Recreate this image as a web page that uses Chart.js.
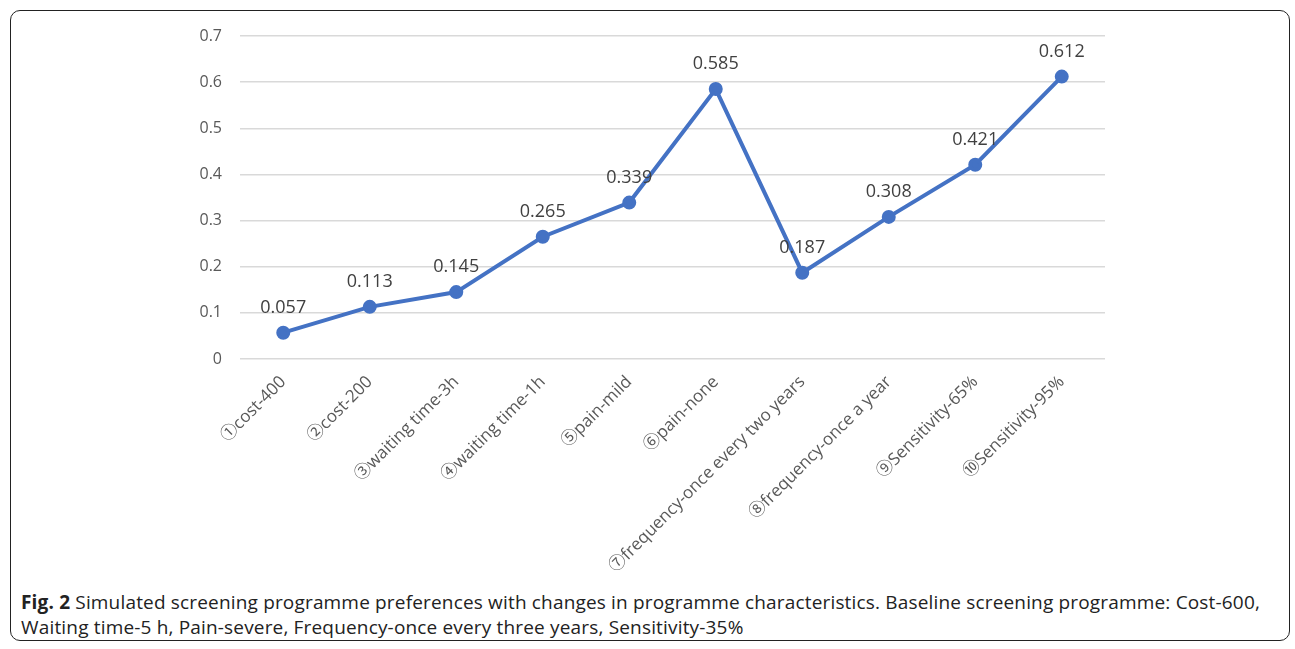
<!DOCTYPE html>
<html>
<head>
<meta charset="utf-8">
<script src="https://cdn.jsdelivr.net/npm/chart.js@4"></script>
<style>
  html, body { margin:0; padding:0; background:#fff; }
  body { width:1295px; height:649px; position:relative; overflow:hidden; font-family:"Open Sans", sans-serif; }
  .frame { position:absolute; left:10px; top:10px; width:1278px; height:629px; border:1.5px solid #222; border-radius:10px; }
  .chartbox { position:absolute; left:0; top:0; width:1295px; height:570px; }
  .caption { position:absolute; left:21px; top:590px; font-size:19px; line-height:25px; color:#222; white-space:nowrap; letter-spacing:0.17px; }
  .caption b { font-weight:700; }
</style>
</head>
<body>
<div class="frame"></div>
<div class="chartbox"><canvas id="c"></canvas></div>
<div class="caption"><b>Fig. 2</b> Simulated screening programme preferences with changes in programme characteristics. Baseline screening programme: Cost-600,<br>Waiting time-5 h, Pain-severe, Frequency-once every three years, Sensitivity-35%</div>
<script>
// ==== DATA ====
const categories = [
  "①cost-400", "②cost-200", "③waiting time-3h", "④waiting time-1h", "⑤pain-mild",
  "⑥pain-none", "⑦frequency-once every two years", "⑧frequency-once a year",
  "⑨Sensitivity-65%", "⑩Sensitivity-95%"
];
const values = [0.057, 0.113, 0.145, 0.265, 0.339, 0.585, 0.187, 0.308, 0.421, 0.612];
const yTicks = [0, 0.1, 0.2, 0.3, 0.4, 0.5, 0.6, 0.7];

const FONT = "'Open Sans', 'Noto Sans CJK JP', sans-serif";

// value labels above points
const valueLabels = {
  id: "valueLabels",
  afterDatasetsDraw(chart){
    const ctx = chart.ctx;
    const meta = chart.getDatasetMeta(0);
    ctx.save();
    ctx.font = "18px " + FONT;
    ctx.fillStyle = "#404040";
    ctx.textAlign = "center";
    ctx.textBaseline = "alphabetic";
    meta.data.forEach((pt, i) => {
      ctx.fillText(values[i].toFixed(3), pt.x, pt.y - 20);
    });
    ctx.restore();
  }
};

new Chart(document.getElementById("c"), {
  type: "line",
  data: {
    labels: categories,
    datasets: [{
      data: values,
      borderColor: "#4472C4",
      backgroundColor: "#4472C4",
      borderWidth: 4,
      pointRadius: 5,
      pointHoverRadius: 5,
      tension: 0,
      fill: false
    }]
  },
  options: {
    responsive: true,
    maintainAspectRatio: false,
    animation: false,
    layout: { padding: { left: 0, right: 190, top: 36, bottom: 0 } },
    plugins: { legend: { display: false }, tooltip: { enabled: false } },
    scales: {
      x: {
        offset: true,
        grid: { display: false, drawTicks: false },
        border: { display: false },
        ticks: {
          color: "#595959",
          font: { size: 17, family: FONT },
          minRotation: 45, maxRotation: 45,
          autoSkip: false,
          padding: 13
        },
        afterFit(s){ s.height = 211; }
      },
      y: {
        min: 0, max: 0.7,
        grid: { color: "#d9d9d9", lineWidth: 1.5, drawTicks: false },
        border: { display: false },
        afterBuildTicks(s){ s.ticks = yTicks.map(v => ({ value: v })); },
        ticks: {
          color: "#595959",
          font: { size: 16, family: FONT },
          padding: 18,
          callback: v => String(Math.round(v * 10) / 10)
        },
        afterFit(s){ s.width = 240; }
      }
    }
  },
  plugins: [valueLabels]
});
</script>
</body>
</html>
